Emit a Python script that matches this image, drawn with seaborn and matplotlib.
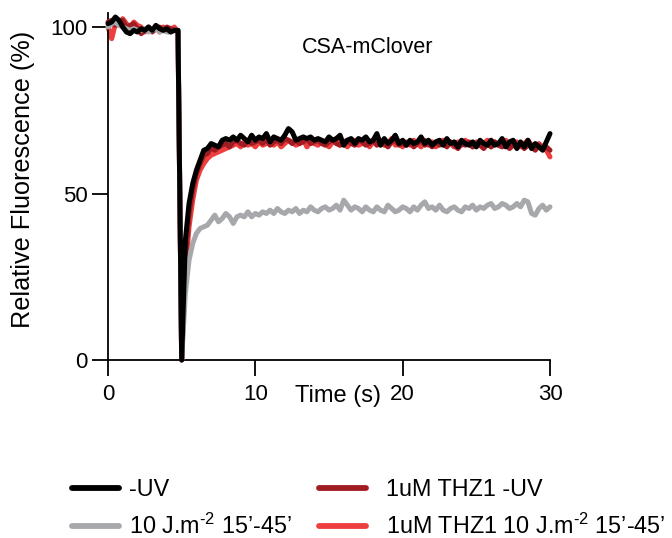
import numpy as np
import pandas as pd
import matplotlib
matplotlib.use("Agg")
import matplotlib.pyplot as plt
import seaborn as sns
from matplotlib.lines import Line2D

# ---------------- data ----------------
time_s = [round(0.25 * i, 2) for i in range(121)]  # 0 .. 30 s sampling

pre_black = [101, 101.5, 103, 102, 100, 98.5, 98, 99, 98.5, 99.5,
             99, 100, 99, 100.5, 99.5, 99, 99.5, 98.5, 99, 99]
pre_gray = [100, 101, 101.5, 100.5, 100, 99.5, 99, 99.5, 99, 99,
            99.5, 98.5, 99, 99.5, 98.5, 99, 98.5, 98.5, 99, 98.5]
pre_darkred = [101.5, 102, 100.5, 101.5, 102, 100, 100.5, 101, 99.5, 98,
               99, 100, 98.5, 99.5, 100, 99, 100, 99.5, 99, 99]
pre_red = [100, 96.5, 101, 100.5, 102.5, 101, 99.5, 101.5, 100.5, 100,
           98.5, 99.5, 99, 100, 98.5, 100, 99, 99, 100, 98.5]

bleach = [0]

post_black = [36, 47, 53, 57, 60, 63, 63.5, 65, 64.5, 64,
              66, 66.5, 66, 67, 66, 67.5, 66.5, 65.5, 67.5, 66,
              67, 66.5, 68, 65.5, 67, 66.5, 66, 67.5, 69.5, 68.5,
              66, 66.5, 67, 66.5, 67, 66, 66.5, 66, 65.5, 67,
              66, 66.5, 67.5, 64.5, 66, 66.5, 65, 66.5, 66, 67,
              65.5, 66, 68, 64.5, 66.5, 65, 66, 67.5, 65, 66,
              64.5, 66, 65, 65.5, 67, 65, 66, 64.5, 65.5, 66,
              64.5, 66.5, 65, 65.5, 64, 66, 65, 64.5, 65.5, 64,
              66, 65, 64.5, 66, 64.5, 65, 66.5, 64, 65.5, 66,
              63.5, 65.5, 64, 66, 63.5, 65, 64, 63, 65.5, 68]
post_darkred = [30, 44, 51, 56, 59, 61.5, 62, 63.5, 63, 64,
                64.5, 65, 64, 65.5, 66, 65, 64.5, 66, 65, 65.5,
                66, 65, 66.5, 64.5, 65.5, 66, 65, 66.5, 66, 65,
                66, 65, 65.5, 66.5, 65, 65.5, 66, 65, 64.5, 65.5,
                66, 65, 64.5, 65.5, 66, 65, 64.5, 66, 65.5, 64.5,
                65, 66, 64.5, 65.5, 65, 64, 65.5, 66, 64.5, 65,
                64.5, 65.5, 64, 65, 66, 64.5, 65, 64, 65.5, 64.5,
                65, 64, 65.5, 64.5, 63.5, 65, 64.5, 65.5, 64, 65,
                64.5, 63.5, 65, 64, 65.5, 64.5, 64, 65, 63.5, 64.5,
                64, 65, 63.5, 64.5, 64, 63, 64.5, 63.5, 64, 63]
post_red = [26, 40, 48, 54, 57, 59, 60.5, 61.5, 62, 62.5,
            63, 63.5, 64, 64.5, 65, 64, 65.5, 64.5, 65, 64,
            65.5, 64.5, 65, 66, 64.5, 65.5, 64, 65, 66, 65.5,
            64.5, 65, 66.5, 64, 65.5, 65, 64.5, 66, 65, 64,
            65.5, 66.5, 64.5, 65, 64, 65.5, 66, 64.5, 65, 66.5,
            64, 65.5, 65, 66, 64.5, 65, 66.5, 64.5, 65, 64,
            65.5, 64.5, 66, 65, 64, 66, 64.5, 65.5, 64, 65,
            66, 64.5, 65, 64, 65.5, 64.5, 66, 65, 64, 65.5,
            64.5, 65, 66, 64, 65.5, 64.5, 65, 66, 64, 65,
            65.5, 64, 65, 66, 64.5, 63.5, 65, 64, 63, 61]
post_gray = [20, 30, 35, 38, 39.5, 40, 40.5, 42, 43.5, 41.5,
             42.5, 44, 43, 41, 43, 43.5, 43, 44.5, 43, 44,
             43.5, 44.5, 44, 45, 44, 45.5, 44.5, 44, 45, 44.5,
             45.5, 44, 45, 44.5, 46, 45, 44.5, 45.5, 46, 45,
             45.5, 46.5, 45, 48, 46.5, 45, 46, 45.5, 44.5, 46,
             45, 44.5, 46, 45, 44.5, 46.5, 45.5, 44.5, 45, 46,
             45.5, 44.5, 46, 45, 46.5, 47.5, 45.5, 46, 45, 46.5,
             45, 44.5, 45.5, 46, 45, 44.5, 46, 45.5, 46.5, 45,
             46, 45.5, 46.5, 47, 45.5, 46, 47, 46.5, 45.5, 46,
             47, 46, 48, 47.5, 44, 43.5, 45.5, 46.5, 45, 46]

labels = ["-UV", "10 J.m$^{\\text{-2}}$ 15\u2019-45\u2019",
          "1uM THZ1 -UV", "1uM THZ1 10 J.m$^{\\text{-2}}$ 15\u2019-45\u2019"]
colors = ["#000000", "#a7a8ab", "#a11c22", "#ee3f3f"]
series = [pre_black + bleach + post_black,
          pre_gray + bleach + post_gray,
          pre_darkred + bleach + post_darkred,
          pre_red + bleach + post_red]

frames = []
for lab, vals in zip(labels, series):
    frames.append(pd.DataFrame({"Time": time_s, "Value": vals, "Condition": lab}))
df = pd.concat(frames, ignore_index=True)

# ---------------- plot ----------------
sns.set_style("ticks")
plt.rcParams["font.family"] = ["Liberation Sans", "DejaVu Sans"]
plt.rcParams["mathtext.fontset"] = "custom"
plt.rcParams["mathtext.rm"] = "Liberation Sans"
plt.rcParams["mathtext.default"] = "regular"
plt.rcParams["text.color"] = "black"
plt.rcParams["axes.labelcolor"] = "black"
plt.rcParams["axes.edgecolor"] = "black"

fig = plt.figure(figsize=(6.72, 5.38), dpi=100)
ax = fig.add_axes([108 / 672, 1 - 360 / 538, 442 / 672, 347.3 / 538])

draw_order = [3, 2, 1, 0]
for i in draw_order:
    sub = df[df["Condition"] == labels[i]]
    sns.lineplot(data=sub, x="Time", y="Value", color=colors[i], lw=3.6,
                 estimator=None, sort=False, ax=ax, legend=False, clip_on=False,
                 zorder=2 + (3 - i))

ax.set_xlim(0, 30)
ax.set_ylim(0, 104.3)
ax.set_xticks([0, 10, 20, 30])
ax.set_yticks([0, 50, 100])
for s in ["top", "right"]:
    ax.spines[s].set_visible(False)
for s in ["left", "bottom"]:
    ax.spines[s].set_linewidth(1.3)
    ax.spines[s].set_color("black")
ax.tick_params(axis="both", length=11.5, width=1.3, labelsize=16, color="black",
               labelcolor="black")
ax.tick_params(axis="x", pad=6)
ax.tick_params(axis="y", pad=3)

ax.set_xlabel("Time (s)", fontsize=17)
ax.set_ylabel("Relative Fluorescence (%)", fontsize=18.2)
ax.xaxis.set_label_coords(0.52, -0.073)
ax.yaxis.set_label_coords(-0.165, 0.52)

ax.text(0.588, 0.9, "CSA-mClover", transform=ax.transAxes, ha="center",
        va="center", fontsize=15.5, color="black")

handles = [Line2D([0], [0], color=c, lw=4.2, solid_capstyle="round") for c in colors]
leg_kw = dict(loc="center left", frameon=False, fontsize=16.8, handlelength=2.0,
              labelspacing=0.55, borderpad=0, borderaxespad=0, labelcolor="black")
leg1 = fig.legend(handles[:2], labels[:2], bbox_to_anchor=(72 / 672, 1 - 508.5 / 538),
                  handletextpad=0.45, **leg_kw)
leg2 = fig.legend(handles[2:], labels[2:], bbox_to_anchor=(319 / 672, 1 - 508.5 / 538),
                  handletextpad=0.85, **leg_kw)

fig.savefig("out.png", dpi=100)
